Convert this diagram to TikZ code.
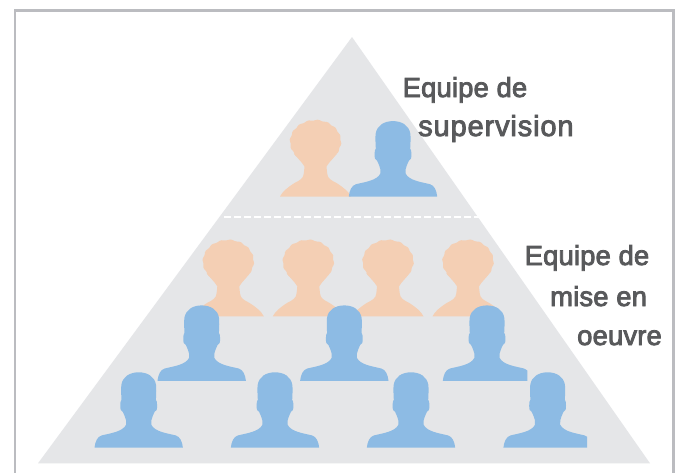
\documentclass[tikz,border=0pt]{standalone}
\usepackage{fontspec}
\newfontfamily\lblfont[FakeBold=3,LetterSpace=0.6]{Liberation Sans}
\definecolor{pblue}{HTML}{8DBBE4}
\definecolor{porange}{HTML}{F4CFB4}
\definecolor{pyrgray}{HTML}{E5E6E8}
\definecolor{framegray}{HTML}{BBBCC0}
\definecolor{txtgray}{HTML}{58595B}
\tikzset{
  lbl/.style={font=\lblfont\fontsize{27.4}{30}\selectfont, text=txtgray, inner sep=0pt, anchor=base west},
  man/.pic={
    \fill[pblue] (-44.2,0) .. controls (-43.5,-6) and (-41.5,-11) .. (-37,-12.3)
      .. controls (-28,-14.5) and (-16,-16) .. (-12.6,-23)
      .. controls (-12,-26) and (-13,-29) .. (-13.8,-31)
      .. controls (-14.5,-33) and (-15.5,-35) .. (-16,-36)
      .. controls (-17.8,-36.5) and (-18.4,-38) .. (-18.4,-42)
      .. controls (-18.4,-45) and (-18.2,-47) .. (-17.2,-48)
      .. controls (-17.6,-54) and (-17.7,-60) .. (-17.3,-63)
      .. controls (-16,-71) and (-9,-75.4) .. (0,-75.4)
      .. controls (9,-75.4) and (16,-71) .. (17.3,-63)
      .. controls (17.7,-60) and (17.6,-54) .. (17.2,-48)
      .. controls (18.2,-47) and (18.4,-45) .. (18.4,-42)
      .. controls (18.4,-38) and (17.8,-36.5) .. (16,-36)
      .. controls (15.5,-35) and (14.5,-33) .. (13.8,-31)
      .. controls (13,-29) and (12,-26) .. (12.6,-23)
      .. controls (16,-16) and (28,-14.5) .. (37,-12.3)
      .. controls (41.5,-11) and (43.5,-6) .. (44.2,0) -- cycle;
  },
  woman/.pic={
    \fill[porange] (-35.5,0) .. controls (-33,-5) and (-28,-9) .. (-21,-13.5)
      .. controls (-16,-16) and (-12,-18) .. (-11.7,-23)
      .. controls (-11.5,-26) and (-11,-28) .. (-11,-30)
      .. controls (-12.5,-33) and (-15,-35) .. (-16.5,-37)
      -- (-21.7,-43) -- (21.7,-43) -- (16.5,-37)
      .. controls (15,-35) and (12.5,-33) .. (11,-30)
      .. controls (11,-28) and (11.5,-26) .. (11.7,-23)
      .. controls (12,-18) and (16,-16) .. (21,-13.5)
      .. controls (28,-9) and (33,-5) .. (35.5,0) -- cycle;
    \fill[porange] plot[smooth cycle, domain=0:355, samples=72, variable=\t]
      ({(25.4+0.5*sin(16*\t))*cos(\t)},{-54.8+(21.6+0.5*sin(16*\t))*sin(\t)});
  }
}
\begin{document}
\begin{tikzpicture}[x=1pt,y=-1pt]
\useasboundingbox (0,0) rectangle (680,472);
\fill[white] (0,0) rectangle (680,472);
\draw[framegray,line width=2.2pt] (14.6,10.4) rectangle (673.5,480);
\fill[pyrgray] (352,37) -- (650,463.3) -- (38,463.3) -- cycle;
\draw[white,line width=1.6pt,dash pattern=on 6.6pt off 3.4pt] (224,216.7) -- (480,216.7);
\pic at (315.5,196.5) {woman};
\pic at (393,196.5) {man};
\foreach \x in {228.3,308.3,388,468} \pic at (\x,316.3) {woman};
\foreach \x in {201.7,344.3} \pic at (\x,380.8) {man};
\begin{scope}
  \clip (430,290) rectangle (527.4,381);
  \pic at (487,380.8) {man};
\end{scope}
\foreach \x in {138.7,275,411} \pic at (\x,447.7) {man};
\begin{scope}
  \clip (490,360) rectangle (587,448);
  \pic at (547.6,447.7) {man};
\end{scope}
\node[lbl] (t1) at (402.5,97) {Equipe de};
\node[lbl,font=\lblfont\fontsize{29}{30}\selectfont\addfontfeature{LetterSpace=3}] (t2) at (418,136) {supervision};
\node[lbl] (t3) at (524.5,265) {Equipe de};
\node[lbl] (t4) at (550,306) {mise en};
\node[lbl] (t5) at (577,345) {oeuvre};
\end{tikzpicture}
\end{document}
